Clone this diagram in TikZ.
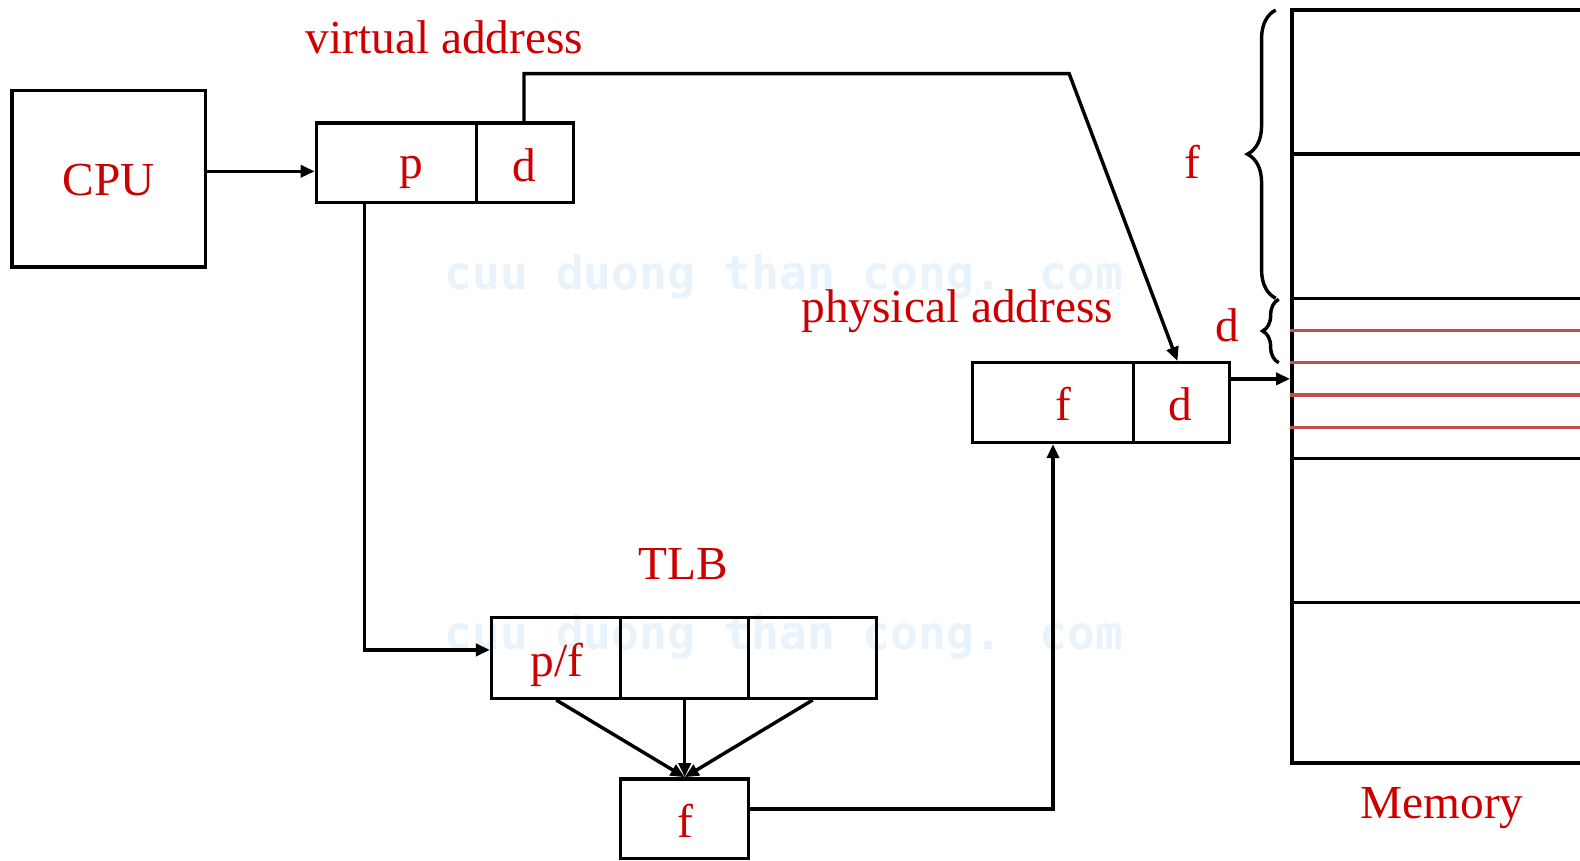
\documentclass[tikz,border=0pt]{standalone}
\usepackage{fontspec}
\setmainfont{Liberation Serif}
\newfontfamily\wmfont{DejaVu Sans Mono}
\usetikzlibrary{arrows.meta,decorations.pathreplacing}
\definecolor{txtred}{RGB}{204,0,0}
\definecolor{linered}{RGB}{192,80,77}
\definecolor{wmblue}{RGB}{232,243,251}
\tikzset{
  box/.style={draw=black, line width=1.7pt, rectangle, inner sep=0pt, text=txtred},
  lbl/.style={text=txtred, inner sep=0pt},
  conn/.style={line width=1.7pt, draw=black},
  arr/.style={conn, -{Triangle[length=7pt,width=6pt]}},
  wm/.style={text=wmblue, inner sep=0pt, font=\wmfont\bfseries\fontsize{23}{26}\selectfont},
  every node/.append style={font=\fontsize{23.5}{28}\selectfont}
}
\begin{document}
\begin{tikzpicture}[x=0.5pt,y=-0.5pt]
\useasboundingbox (0,0) rectangle (1568,854);
% watermark
\node[wm] (wm1) at (778,275) {cuu duong than cong. com};
\node[wm] (wm2) at (778,632) {cuu duong than cong. com};

% CPU
\node[box, minimum width=96pt, minimum height=87.5pt] (cpu) at (108,177.5) {};
\node[lbl] (cputxt) at (108,179) {CPU};

% virtual address
\node[box, minimum width=79.5pt, minimum height=39.5pt] (vp) at (393.5,161.5) {};
\node[box, minimum width=48pt, minimum height=39.5pt] (vd) at (521,161.5) {};
\node[lbl] (dtxt) at (520,164) {d};
\node[lbl] (ptxt) at (408,171) {p};
\node[lbl] (valbl) at (441,37) {virtual address};

% physical address
\node[box, minimum width=80pt, minimum height=39.5pt] (pf) at (1045,399.5) {};
\node[box, minimum width=47.5pt, minimum height=39.5pt] (pd) at (1172.5,399.5) {};
\node[lbl] (ftxt) at (1055,401) {f};
\node[lbl] (pdtxt) at (1171,401) {d};
\node[lbl] (palbl) at (950,309) {physical address};

% TLB
\node[box, minimum width=64pt, minimum height=40pt] (t1) at (552,653) {};
\node[box, minimum width=63.5pt, minimum height=40pt] (t2) at (679.5,653) {};
\node[box, minimum width=63.5pt, minimum height=40pt] (t3) at (806.5,653) {};
\node[lbl] (pftxt) at (553,660) {p/f};
\node[lbl] (tlblbl) at (678,560) {TLB};

% f box
\node[box, minimum width=63.5pt, minimum height=39.5pt] (fb) at (679.5,812.5) {};
\node[lbl] (fbtxt) at (680,815) {f};

% Memory
\node[box, minimum width=159pt, minimum height=373.5pt] (mem) at (1441,383.5) {};
\foreach \yy in {153,296,455,598}
  \draw[conn] (mem.west |- 0,\yy) -- (mem.east |- 0,\yy);
\foreach \yy in {328,360,392,424}
  \draw[line width=1.6pt, linered] (mem.west |- 0,\yy) -- (mem.east |- 0,\yy);
\node[lbl] (memlbl) at (1431,802) {Memory};

% braces
\coordinate (bf1) at (1266,296);
\coordinate (bf2) at (1266,10);
\draw[line width=1.7pt, decorate, decoration={brace, amplitude=14pt}] (bf1) -- (bf2);
\coordinate (bd1) at (1269,360);
\coordinate (bd2) at (1269,297);
\draw[line width=1.7pt, decorate, decoration={brace, amplitude=8pt}] (bd1) -- (bd2);
\node[lbl] (flbl) at (1183,161) {f};
\node[lbl] (dlbl) at (1218,323) {d};

% connectors
\draw[arr] (cpu.east |- 0,170) -- (vp.west |- 0,170);
\coordinate (c1) at (520,73);
\coordinate (c2) at (1061,73);
\draw[arr] (vd.north -| c1) -- (c1) -- (c2) -- ([xshift=-2pt]pd.north);
\coordinate (c3) at (362,645);
\draw[arr] (vp.south -| c3) -- (c3) -- (t1.west |- c3);
\draw[arr] (t1.south) -- (fb.north);
\draw[arr] (t2.south) -- (fb.north);
\draw[arr] (t3.south) -- (fb.north);
\coordinate (c4) at (1045,803);
\draw[arr] (fb.east |- c4) -- (c4) -- (pf.south);
\draw[arr] (pd.east |- 0,376) -- (mem.west |- 0,376);
\end{tikzpicture}
\end{document}
